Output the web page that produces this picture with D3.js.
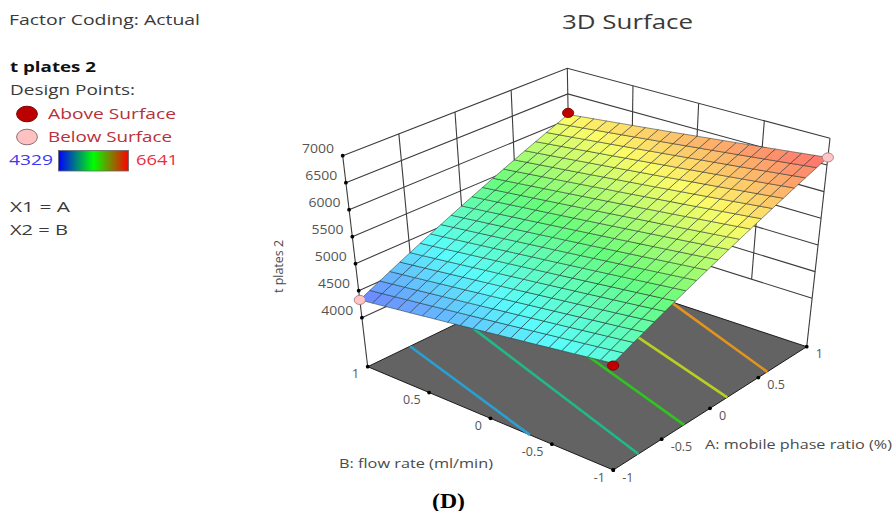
<!DOCTYPE html>
<html><head><meta charset="utf-8">
<script src="https://cdn.jsdelivr.net/npm/d3@7"></script>
<style>html,body{margin:0;padding:0;background:#fff;overflow:hidden}svg{display:block}text{font-family:"Open Sans",sans-serif}</style>
</head><body><svg id="c" width="894" height="511"></svg>
<script>
// ---------- data ----------
const codedA = [-1,-0.9,-0.8,-0.7,-0.6,-0.5,-0.4,-0.3,-0.2,-0.1,0,0.1,0.2,0.3,0.4,0.5,0.6,0.7,0.8,0.9,1];
const codedB = [-1,-0.9,-0.8,-0.7,-0.6,-0.5,-0.4,-0.3,-0.2,-0.1,0,0.1,0.2,0.3,0.4,0.5,0.6,0.7,0.8,0.9,1];
// response: rows follow codedA, columns follow codedB
const response = [
[5041,5005,4970,4934,4899,4863,4827,4792,4756,4721,4685,4649,4614,4578,4543,4507,4471,4436,4400,4365,4329],
[5121,5086,5051,5015,4980,4945,4910,4875,4840,4804,4769,4734,4699,4664,4629,4593,4558,4523,4488,4453,4418],
[5201,5166,5132,5097,5062,5027,4993,4958,4923,4888,4854,4819,4784,4749,4715,4680,4645,4610,4576,4541,4506],
[5281,5247,5212,5178,5144,5109,5075,5041,5006,4972,4938,4903,4869,4835,4800,4766,4732,4697,4663,4629,4595],
[5361,5327,5293,5259,5225,5192,5158,5124,5090,5056,5022,4988,4954,4920,4887,4853,4819,4785,4751,4717,4683],
[5441,5408,5374,5341,5307,5274,5240,5207,5173,5140,5106,5073,5039,5006,4973,4939,4906,4872,4839,4805,4772],
[5521,5488,5455,5422,5389,5356,5323,5290,5257,5224,5191,5158,5125,5092,5059,5026,4993,4960,4926,4893,4860],
[5601,5568,5536,5503,5471,5438,5405,5373,5340,5308,5275,5242,5210,5177,5145,5112,5079,5047,5014,4982,4949],
[5681,5649,5617,5584,5552,5520,5488,5456,5424,5391,5359,5327,5295,5263,5231,5198,5166,5134,5102,5070,5037],
[5761,5729,5698,5666,5634,5602,5571,5539,5507,5475,5444,5412,5380,5348,5317,5285,5253,5221,5190,5158,5126],
[5841,5810,5778,5747,5716,5684,5653,5622,5590,5559,5528,5496,5465,5434,5402,5371,5340,5309,5277,5246,5215],
[5921,5890,5859,5828,5797,5767,5736,5705,5674,5643,5612,5581,5550,5519,5489,5458,5427,5396,5365,5334,5303],
[6001,5971,5940,5910,5879,5849,5818,5788,5757,5727,5696,5666,5635,5605,5574,5544,5513,5483,5453,5422,5392],
[6081,6051,6021,5991,5961,5931,5901,5871,5841,5811,5781,5750,5720,5690,5660,5630,5600,5570,5540,5510,5480],
[6161,6131,6102,6072,6043,6013,5983,5954,5924,5895,5865,5835,5806,5776,5746,5717,5687,5658,5628,5598,5569],
[6241,6212,6183,6153,6124,6095,6066,6037,6008,5978,5949,5920,5891,5862,5832,5803,5774,5745,5716,5687,5657],
[6321,6292,6263,6235,6206,6177,6148,6120,6091,6062,6033,6005,5976,5947,5918,5890,5861,5832,5803,5775,5746],
[6401,6373,6344,6316,6288,6259,6231,6203,6174,6146,6118,6089,6061,6033,6004,5976,5948,5919,5891,5863,5834],
[6481,6453,6425,6397,6369,6341,6314,6286,6258,6230,6202,6174,6146,6118,6090,6062,6035,6007,5979,5951,5923],
[6561,6534,6506,6479,6451,6424,6396,6369,6341,6314,6286,6259,6231,6204,6176,6149,6121,6094,6066,6039,6011],
[6641,6614,6587,6560,6533,6506,6479,6452,6425,6398,6371,6343,6316,6289,6262,6235,6208,6181,6154,6127,6100]
];
const zTicks = [4000,4500,5000,5500,6000,6500,7000];
const abTicks = [-1,-0.5,0,0.5,1];
const wallInnerTicks = [-0.5,0,0.5];
// floor contours, read as the two (A,B) ends of each line
const contourStartA = [-1,-0.74,-0.268,0.178,0.592];
const contourStartB = [-0.32,-1,-1,-1,-1];
const contourEndA = [-0.584,-0.062,0.38,0.8,1];
const contourEndB = [1,1,1,1,0.16];
const contourColors = ["#2a9fd2","#1fb98a","#2fc41f","#b9cf22","#e2941f"];
const pointA = [-1,1,1,-1];
const pointB = [1,-1,1,-1];
const pointZ = [4329,6641,6130,5000];
const pointKind = ["below","below","above","above"];
const legendMin = "4329", legendMax = "6641";

// ---------- scales and view ----------
const svg = d3.select("#c");
const uScale = d3.scaleLinear().domain([-1,1]).range([0,1]);
const vScale = d3.scaleLinear().domain([-1,1]).range([0,1]);
const wScale = d3.scaleLinear().domain([3093,7000]).range([0,1]);
// screen positions of the view box corners: [floor, top]; indexed by A end, B end
const view = {
  a0b0:[[613.3,470],[613,256]],
  a0b1:[[367.7,366.7],[342.7,155.7]],
  a1b0:[[806.7,346.7],[830,138.3]],
  a1b1:[[571,268.5],[567.3,68.3]]
};
const mix = (p,q,t)=>[p[0]+(q[0]-p[0])*t,p[1]+(q[1]-p[1])*t];
function project(a,b,z){
  const u=uScale(a),v=vScale(b),w=wScale(z);
  const c=k=>mix(view[k][0],view[k][1],w);
  return mix(mix(c("a0b0"),c("a1b0"),u),mix(c("a0b1"),c("a1b1"),u),v);
}
const zMin=wScale.domain()[0];
const line=d3.line();
const color=d3.scaleLinear()
  .domain([4329,4905,5485,6060,6641])
  .range(["#6f7fff","#5afcfc","#68fc7c","#fcfc68","#ff6e6e"]);

// ---------- walls ----------
const wallZ=[4000,7000];
const walls=svg.append("g").attr("fill","none").attr("stroke","#3c3c3c").attr("stroke-width",1.1);
walls.selectAll(".hl").data(zTicks).join("path").attr("d",z=>line([project(-1,1,z),project(1,1,z),project(1,-1,z)]));
walls.selectAll(".va").data(wallInnerTicks).join("path").attr("class","va").attr("d",a=>line(wallZ.map(z=>project(a,1,z))));
walls.selectAll(".vb").data(wallInnerTicks).join("path").attr("class","vb").attr("d",b=>line(wallZ.map(z=>project(1,b,z))));
walls.append("path").attr("d",line(wallZ.map(z=>project(1,1,z))));
walls.append("path").attr("d",line([project(-1,1,7000),project(-1,1,zMin)]));
walls.append("path").attr("d",line([project(1,-1,7000),project(1,-1,zMin)]));

// ---------- floor ----------
svg.append("path").attr("fill","#636363").attr("stroke","#1c1c1c").attr("stroke-width",1)
  .attr("d",line([project(-1,1,zMin),project(-1,-1,zMin),project(1,-1,zMin),project(1,1,zMin)])+"Z");

svg.append("g").attr("fill","none").attr("stroke-width",2.6)
  .selectAll("path").data(contourColors).join("path")
  .attr("stroke",c=>c)
  .attr("d",(c,i)=>line([project(contourStartA[i],contourStartB[i],zMin),project(contourEndA[i],contourEndB[i],zMin)]));

// ---------- surface ----------
const cells=[];
for(let i=0;i<codedA.length-1;i++)for(let j=0;j<codedB.length-1;j++)cells.push([i,j]);
svg.append("g").selectAll("path").data(cells).join("path")
  .attr("d",([i,j])=>line([
     project(codedA[i],codedB[j],response[i][j]),
     project(codedA[i+1],codedB[j],response[i+1][j]),
     project(codedA[i+1],codedB[j+1],response[i+1][j+1]),
     project(codedA[i],codedB[j+1],response[i][j+1])])+"Z")
  .attr("fill",([i,j])=>color((response[i][j]+response[i+1][j]+response[i+1][j+1]+response[i][j+1])/4))
  .attr("stroke","#1d2b2b").attr("stroke-opacity",.68).attr("stroke-width",.75).attr("stroke-linejoin","round");

// ---------- tick marks ----------
const dots=[...zTicks.map(z=>project(-1,1,z)),
  ...abTicks.map(b=>project(-1,b,zMin)),...abTicks.map(a=>project(a,-1,zMin))];
svg.append("g").selectAll("circle").data(dots).join("circle")
  .attr("cx",d=>d[0]).attr("cy",d=>d[1]).attr("r",1.9).attr("fill","#000");

// ---------- design points ----------
svg.append("g").selectAll("ellipse").data(pointZ).join("ellipse")
  .attr("cx",(z,i)=>project(pointA[i],pointB[i],z)[0])
  .attr("cy",(z,i)=>project(pointA[i],pointB[i],z)[1])
  .attr("rx",5.6).attr("ry",4.6)
  .attr("fill",(z,i)=>pointKind[i]==="above"?"#c00000":"#ffc4c4")
  .attr("stroke",(z,i)=>pointKind[i]==="above"?"#7a0000":"#a08080").attr("stroke-width",.9);

// ---------- text ----------
function label(s,x,y,o={}){
  const t=svg.append("text").text(s).attr("x",x).attr("y",y).attr("dy","0.35em")
    .attr("font-size",o.size||14).attr("fill",o.fill||"#3a3a3a")
    .attr("text-anchor",o.anchor||"start");
  if(o.len)t.attr("textLength",o.len).attr("lengthAdjust","spacingAndGlyphs");
  if(o.weight)t.attr("font-weight",o.weight);
  if(o.family)t.style("font-family",o.family);
  return t;
}
const tickFill="#555";
zTicks.forEach(z=>{const p=project(-1,1,z);label(z,p[0]-8.7,p[1]-7.2,{anchor:"end",size:12.5,fill:tickFill,len:32});});
abTicks.forEach(b=>{const p=project(-1,b,zMin);label(b,p[0]-8.5,p[1]+7.4,{anchor:"end",size:12.5,fill:tickFill});});
abTicks.forEach(a=>{const p=project(a,-1,zMin);label(a,p[0]+9,p[1]+7.4,{size:12.5,fill:tickFill});});

label("Factor Coding: Actual",9,20,{size:15,len:191});
label("t plates 2",10,66.5,{size:15,weight:700,fill:"#111",len:86});
label("Design Points:",10,90,{size:15,len:125});
label("Above Surface",48,114,{size:15,fill:"#b8303a",len:128});
label("Below Surface",48,137,{size:15,fill:"#b8303a",len:124});
label(legendMin,9,160,{size:15,fill:"#3a3af0",len:44});
label(legendMax,136,160,{size:15,fill:"#e8303f",len:42});
label("X1 = A",10,207,{size:15,len:60});
label("X2 = B",10,230,{size:15,len:58});
label("3D Surface",562,22,{size:20,len:131});
label("B: flow rate (ml/min)",339,463,{size:13,fill:"#4a4a4a",len:154});
label("A: mobile phase ratio (%)",705,444,{size:13,fill:"#4a4a4a",len:187});
label("(D)",432,501,{size:20,weight:700,fill:"#000",family:"'Liberation Serif',serif",len:33});
svg.append("text").text("t plates 2").attr("transform","translate(278,266.5) rotate(-90)")
  .attr("text-anchor","middle").attr("dy","0.35em").attr("font-size",13).attr("fill","#4a4a4a")
  .attr("textLength",53).attr("lengthAdjust","spacingAndGlyphs");

// ---------- legend marks ----------
svg.append("ellipse").attr("cx",27).attr("cy",114).attr("rx",10.4).attr("ry",7.8).attr("fill","#bb0000").attr("stroke","#800000");
svg.append("ellipse").attr("cx",27).attr("cy",137).attr("rx",10.4).attr("ry",7.8).attr("fill","#ffc2c2").attr("stroke","#907070");
const grad=svg.append("defs").append("linearGradient").attr("id","g");
["#0000ff","#00ff00","#ff0000"].forEach((c,i)=>grad.append("stop").attr("offset",i*50+"%").attr("stop-color",c));
svg.append("rect").attr("x",58.5).attr("y",150.5).attr("width",70).attr("height",20.5).attr("fill","url(#g)").attr("stroke","#666").attr("stroke-width",.8);
</script></body></html>
